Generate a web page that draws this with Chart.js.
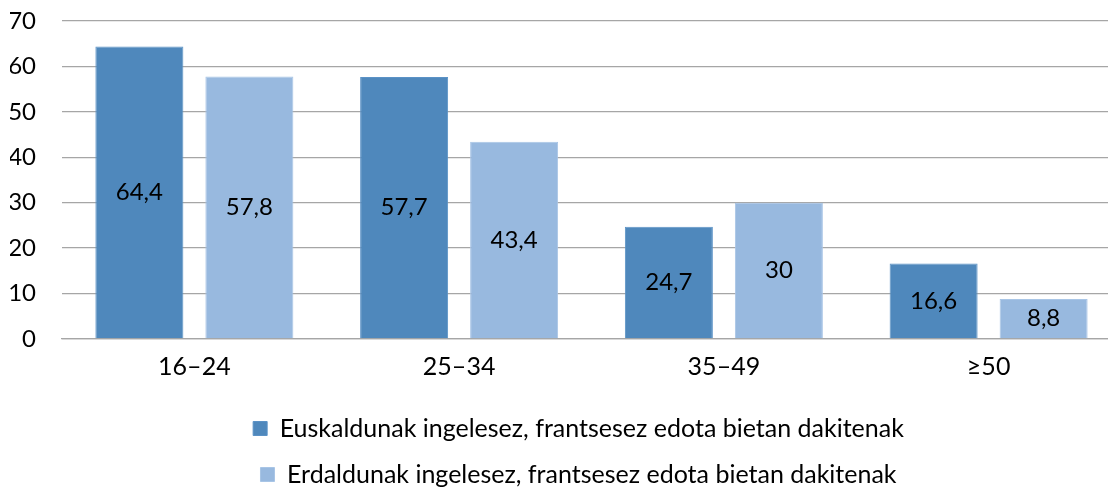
<!DOCTYPE html>
<html>
<head>
<meta charset="utf-8">
<script src="https://cdn.jsdelivr.net/npm/chart.js@4"></script>
<style>
  html, body { margin: 0; padding: 0; overflow: hidden; background: #fff; }
  #wrap { position: absolute; left: 0; top: 0; width: 1130px; height: 497px; }
</style>
</head>
<body>
<div id="wrap"><canvas id="myChart"></canvas></div>
<script>
var ageGroups = ['16–24', '25–34', '35–49', '≥50'];
var euskaldunak = [64.4, 57.7, 24.7, 16.6];
var erdaldunak = [57.8, 43.4, 30, 8.8];
var yTicks = [0, 10, 20, 30, 40, 50, 60, 70];

var FONT = 'Lato, "Open Sans", sans-serif';
var FS = 25;
var NUM_FS = 24;

// labels in the middle of each bar, comma as decimal mark
var barLabels = {
    id: 'barLabels',
    afterDatasetsDraw: function(chart) {
        var ctx = chart.ctx;
        ctx.save();
        ctx.font = NUM_FS + 'px ' + FONT;
        ctx.fillStyle = '#000';
        ctx.textAlign = 'center';
        ctx.textBaseline = 'middle';
        chart.data.datasets.forEach(function(ds, i) {
            chart.getDatasetMeta(i).data.forEach(function(bar, j) {
                ctx.fillText(String(ds.data[j]).replace('.', ','), bar.x, (bar.y + bar.base) / 2);
            });
        });
        ctx.restore();
    }
};

// nudge legend a bit to the right like the original
var legendShift = {
    id: 'legendShift',
    afterLayout: function(chart) {
        chart.legend.left += 13;
        chart.legend.right += 13;
    }
};

var ctx = document.getElementById('myChart').getContext('2d');
var myChart = new Chart(ctx, {
    type: 'bar',
    data: {
        labels: ageGroups,
        datasets: [{
            label: 'Euskaldunak ingelesez, frantsesez edota bietan dakitenak',
            data: euskaldunak,
            backgroundColor: '#4F88BC',
            borderColor: '#5B92C6',
            borderWidth: 1
        }, {
            label: 'Erdaldunak ingelesez, frantsesez edota bietan dakitenak',
            data: erdaldunak,
            backgroundColor: '#98B9DF',
            borderColor: '#A8C5E6',
            borderWidth: 1
        }]
    },
    options: {
        responsive: true,
        maintainAspectRatio: false,
        animation: false,
        categoryPercentage: 0.831,
        barPercentage: 0.8,
        layout: { padding: { left: 10, right: 9, top: 21, bottom: 0 } },
        plugins: {
            legend: {
                position: 'bottom',
                labels: {
                    boxWidth: 14,
                    boxHeight: 14,
                    padding: 21,
                    color: '#000',
                    font: { family: FONT, size: FS }
                }
            },
            tooltip: { enabled: false }
        },
        scales: {
            x: {
                grid: { display: false, drawTicks: false },
                border: { color: '#A6A6A6', width: 1.3 },
                ticks: { color: '#000', padding: 13, font: { family: FONT, size: FS } },
                afterFit: function(scale) { scale.height = 56; }
            },
            y: {
                min: 0,
                max: 70,
                afterBuildTicks: function(scale) {
                    scale.ticks = yTicks.map(function(v) { return { value: v }; });
                },
                grid: { color: '#A6A6A6', lineWidth: 1.3, drawTicks: false },
                border: { display: false },
                ticks: { color: '#000', padding: 26, font: { family: FONT, size: NUM_FS } },
                afterFit: function(scale) {
                    scale.width = 52;
                    scale.paddingTop = 0;
                    scale.paddingBottom = 0;
                }
            }
        }
    },
    plugins: [barLabels, legendShift]
});
</script>
</body>
</html>
